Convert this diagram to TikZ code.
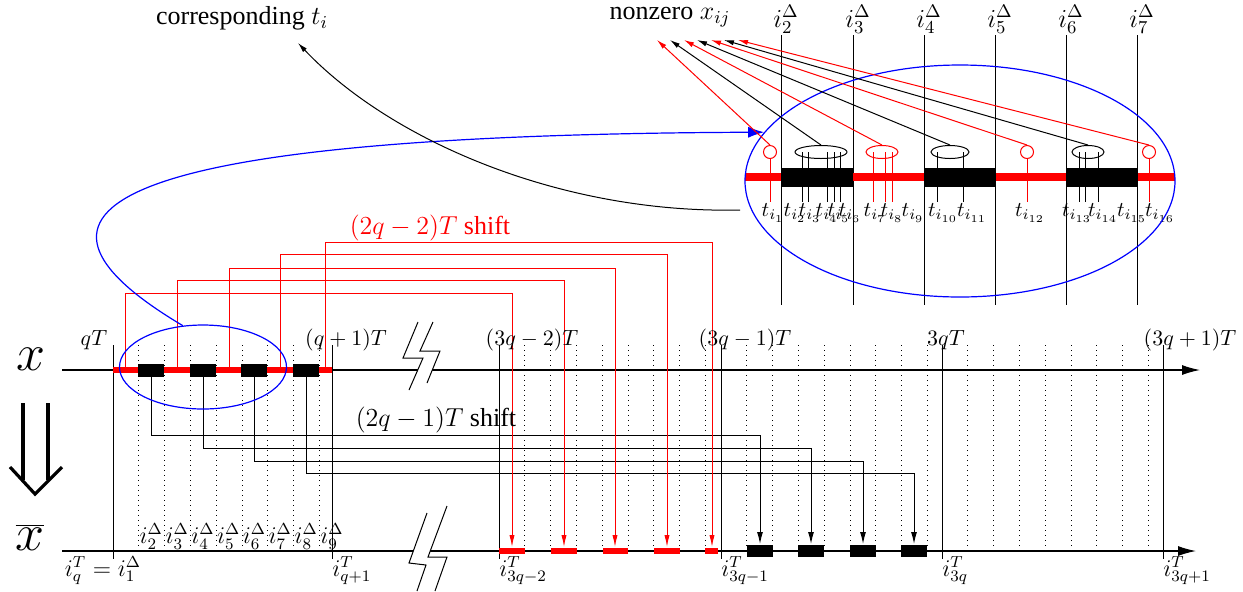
\documentclass[tikz,border=0pt]{standalone}
\usepackage{fix-cm}
\usepackage[no-math]{fontspec}
\setmainfont{Liberation Serif}
\usetikzlibrary{arrows.meta,shapes.geometric}

\tikzset{
  xaxis/.style={line width=0.6pt,-{Latex[length=9pt,width=5pt]}},
  period/.style={line width=0.5pt},
  subdiv/.style={dotted,line width=0.5pt},
  redbar/.style={red,line width=3pt},
  rshift/.style={red,line width=0.5pt,-{Latex[length=6pt,width=2.6pt]}},
  bshift/.style={line width=0.5pt,-{Latex[length=6pt,width=3pt]}},
  nzarrow/.style={line width=0.5pt,-{Latex[length=5pt,width=2.6pt]}},
  tgrp/.style={draw,ellipse,inner sep=0pt,line width=0.5pt,minimum height=6.5pt,minimum width=6.5pt},
  zoomring/.style={draw=blue,ellipse,inner sep=0pt,line width=0.6pt},
  biglbl/.style={font=\fontsize{13}{15}\selectfont},
  tlbl/.style={font=\fontsize{10.5}{12}\selectfont,inner sep=0pt},
  dlbl/.style={font=\fontsize{13}{15}\selectfont},
  varlbl/.style={font=\fontsize{26}{28}\selectfont}
}

\begin{document}
\begin{tikzpicture}[x=0.5pt,y=-0.5pt,>=latex,font=\fontsize{11}{13}\selectfont]
  \useasboundingbox (0,0) rectangle (1243,591);

  % sub-intervals and period boundaries
  \foreach \p in {113,499,721,942}
    \foreach \k in {1,...,8}
      \draw[subdiv] ({\p+25.8*\k},345) -- ({\p+25.8*\k},551);
  \foreach \p in {113,332,499,721,942,1163}
    \draw[period] (\p,345) -- (\p,559);

  % the two axes
  \coordinate (xs) at (62,370);
  \coordinate (xe) at (1200,370);
  \coordinate (bs) at (62,551);
  \coordinate (be) at (1196,551);
  \draw[xaxis] (xs) -- (xe);
  \draw[xaxis] (bs) -- (be);

  % breaks
  \fill[white] (409,390) -- (423,358) -- (403,358) -- (418,322) -- (433,322) -- (420,351) -- (440,351) -- (427,383) -- cycle;
  \draw[period] (409,390) -- (423,358) -- (403,358) -- (418,322);
  \draw[period] (427,383) -- (440,351) -- (420,351) -- (433,322);
  \fill[white] (427,513) -- (409,563) -- (426,565) -- (417,591) -- (435,591) -- (447,557) -- (428,557) -- (447,506) -- cycle;
  \draw[period] (427,513) -- (409,563) -- (426,565) -- (417,591);
  \draw[period] (447,506) -- (428,557) -- (447,557) -- (435,591);

  % period q of x
  \draw[redbar] (113,370) -- (332,370);
  \foreach \a in {138,190,241,293}
    \fill (\a,364) rectangle +(26,13);

  % shifted pieces on x bar
  \foreach \a/\b in {499/525,551/577,603/628,654/680,705/718}
    \draw[redbar] (\a,551) -- (\b,551);
  \foreach \a in {747,798,850,901}
    \fill (\a,545) rectangle +(26,12);

  % (2q-1)T shift
  \foreach \i/\a/\b/\h in {1/151/760/435,2/203/811/448,3/254/863/461,4/306/914/473} {
    \coordinate (bk\i) at (\a,377);
    \coordinate (bt\i) at (\b,544);
    \draw[bshift] (bk\i) -- ++(0,{\h-377}) -| (bt\i);
  }
  % (2q-2)T shift
  \foreach \i/\a/\b/\h in {1/125/512/293,2/177/564/280,3/229/615/268,4/280/667/254,5/325/712/242} {
    \coordinate (rs\i) at (\a,367);
    \coordinate (rt\i) at (\b,547);
    \draw[rshift] (rs\i) -- ++(0,{\h-367}) -| (rt\i);
  }
  \node[red,biglbl] (rsl) at (430,228) {$(2q-2)T$ shift};
  \node[biglbl] (bsl) at (436,420) {$(2q-1)T$ shift};

  % axis labels
  \node[varlbl] (vx) at (31,359) {$x$};
  \node[varlbl] (vxb) at (30,537) {$\overline{x}$};
  \node (pq) at (94,340) {$qT$};
  \node (pq1) at (346,340) {$(q+1)T$};
  \node (p3a) at (532,340) {$(3q-2)T$};
  \node (p3b) at (745,340) {$(3q-1)T$};
  \node (p3c) at (946,340) {$3qT$};
  \node (p3d) at (1190,340) {$(3q+1)T$};
  \node[anchor=north,inner sep=1pt,font=\fontsize{12}{14}\selectfont] (iq) at (103,554) {$i_q^T=i_1^{\Delta}$};
  \node[anchor=north west,inner sep=1pt,font=\fontsize{12}{14}\selectfont] (iq1) at (330,554) {$i_{q+1}^T$};
  \node[anchor=north west,inner sep=1pt,font=\fontsize{12}{14}\selectfont] (i3a) at (497,554) {$i_{3q-2}^T$};
  \node[anchor=north west,inner sep=1pt,font=\fontsize{12}{14}\selectfont] (i3b) at (719,554) {$i_{3q-1}^T$};
  \node[anchor=north west,inner sep=1pt,font=\fontsize{12}{14}\selectfont] (i3c) at (940,554) {$i_{3q}^T$};
  \node[anchor=north west,inner sep=1pt,font=\fontsize{12}{14}\selectfont] (i3d) at (1161,554) {$i_{3q+1}^T$};
  \foreach \k in {2,...,9}
    \node[anchor=south west,inner sep=0.5pt,font=\fontsize{12}{14}\selectfont] (sd\k) at ({112.5+25.8*(\k-1)},551) {$i_{\k}^{\Delta}$};

  % double arrow
  \draw[line width=1.6pt] (23,403) -- (23,480) (48,403) -- (48,480);
  \draw[line width=1.6pt] (10,467) -- (35,494) -- (62,467);

  % zoomed view
  \foreach \x/\n in {781/2,853/3,924/4,995/5,1066/6,1137/7} {
    \draw[period] (\x,35) -- (\x,305);
    \node[anchor=south,inner sep=0.5pt,dlbl] (dl\n) at (\x+5,35) {$i_{\n}^{\Delta}$};
  }
  \draw[red,line width=4pt] (745,177) -- (1175,177);
  \foreach \a in {781,924,1066}
    \fill (\a,168) rectangle +(72,19);

  \node[tgrp,red] (g1) at (770,152) {};
  \node[tgrp,minimum width=26pt] (g2) at (821,152) {};
  \node[tgrp,red,minimum width=16pt] (g3) at (882,152) {};
  \node[tgrp,minimum width=19pt] (g4) at (950,152) {};
  \node[tgrp,red] (g5) at (1027,152) {};
  \node[tgrp,minimum width=16pt] (g6) at (1088,152) {};
  \node[tgrp,red] (g7) at (1149,152) {};
  \foreach \t in {802,808,827,834,840,937,963,1079,1085,1098}
    \draw[line width=0.5pt] (\t,152) -- (\t,202);
  \foreach \t in {873,885,892}
    \draw[red,line width=0.5pt] (\t,152) -- (\t,202);
  \foreach \g/\t in {g1/770,g5/1027,g7/1149}
    \draw[red,line width=0.5pt] (\g.south) -- (\t,202);

  \foreach \k/\x in {1/773,2/795,3/810,4/827,5/839,6/850,7/875,8/892,9/913,10/943,11/972,12/1030,13/1077,14/1103,15/1132,16/1160}
    \node[tlbl] (t\k) at (\x,213) {$t_{i_{\k}}$};

  \node[zoomring,minimum width=83.5pt,minimum height=42pt] (zoomS) at (203,367) {};
  \node[zoomring,minimum width=215pt,minimum height=116pt] (zoomL) at (960,181) {};
  \draw[blue,line width=0.6pt,-{Latex[length=8pt,width=5.5pt]}] (zoomS.116) .. controls (5,220) and (60,135) .. (zoomL.166);

  % nonzero entries
  \node[biglbl] (nzl) at (670,17) {nonzero $x_{ij}$};
  \foreach \i/\x in {1/657,2/670,3/684,4/697,5/711,6/724,7/738}
    \coordinate (nz\i) at (\x,40);
  \draw[nzarrow,red] (g1.north) -- (nz1);
  \draw[nzarrow] (g2.north) -- (nz2);
  \draw[nzarrow,red] (g3.north) -- (nz3);
  \draw[nzarrow] (g4.north) -- (nz4);
  \draw[nzarrow,red] (g5.north) -- (nz5);
  \draw[nzarrow] (g6.north) -- (nz6);
  \draw[nzarrow,red] (g7.north) -- (nz7);

  \node[biglbl] (ctl) at (242,18) {corresponding $t_i$};
  \coordinate (ctfoot) at (740,210);
  \coordinate (cthead) at (298,43);
  \draw[nzarrow] (ctfoot) .. controls (560,214) and (390,140) .. (cthead);
\end{tikzpicture}
\end{document}
